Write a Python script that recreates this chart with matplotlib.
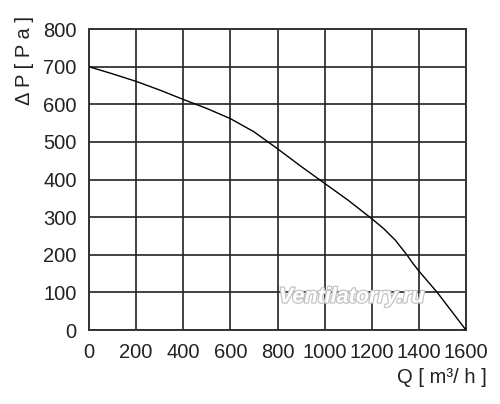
import matplotlib
matplotlib.use("Agg")
import matplotlib.pyplot as plt
import matplotlib.patheffects as pe

plt.rcParams['font.family'] = ['Liberation Sans', 'DejaVu Sans']

# fan curve
q = [0, 100, 200, 300, 400, 500, 600, 700, 800, 900, 1000, 1100, 1200,
     1250, 1300, 1349, 1375, 1400, 1478, 1600]
dp = [700, 681, 661, 638, 613, 589, 562, 527, 482, 435, 390, 345, 296,
      270, 239, 200, 177, 157, 100, 0]

xticks = [0, 200, 400, 600, 800, 1000, 1200, 1400, 1600]
yticks = [0, 100, 200, 300, 400, 500, 600, 700, 800]

fig = plt.figure(figsize=(5, 4.04), dpi=100)
ax = fig.add_axes([0.178, 0.183, 0.754, 0.745])

ax.plot(q, dp, color='black', lw=1.0, zorder=3)

ax.set_xlim(0, 1600)
ax.set_ylim(0, 800)
ax.set_xticks(xticks)
ax.set_yticks(yticks)
ax.set_xticklabels([str(v) for v in xticks], fontsize=14.5)
ax.set_yticklabels([str(v) for v in yticks], fontsize=14.5)
ax.tick_params(length=0, pad=9, colors='#222222')
ax.grid(True, color='#222222', lw=1.2)
for s in ax.spines.values():
    s.set_color('#333333')
    s.set_linewidth(1.4)

fig.text(0.048, 0.85, 'Δ P [ P a ]', rotation=90, fontsize=14.5, ha='center', va='center',
         color='#222222')
fig.text(0.973, 0.066, 'Q [ m³/ h ]', fontsize=14.5, ha='right', va='center', color='#222222')

# watermark
ax.text(1115, 88, 'Ventilatorry.ru', fontsize=15.5, style='italic', weight='bold',
        color='white', ha='center', va='center', zorder=4,
        path_effects=[pe.withStroke(linewidth=1.8, foreground='#c4c4c4')])

fig.savefig('out.png', dpi=100)
